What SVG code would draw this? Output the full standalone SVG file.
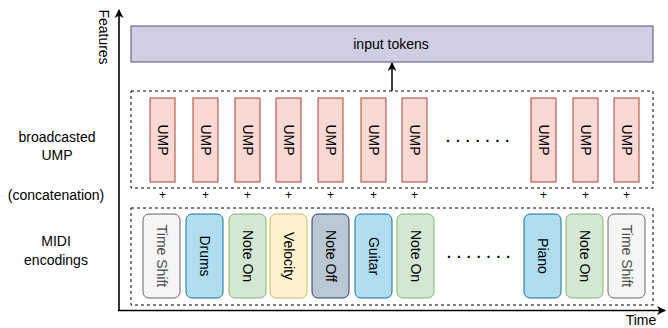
<svg xmlns="http://www.w3.org/2000/svg" width="668" height="328" viewBox="0 0 668 328">
<defs>
<marker id="ah" markerWidth="10" markerHeight="10" refX="8" refY="5" orient="auto" markerUnits="userSpaceOnUse">
<path d="M0,0.5 L9,5 L0,9.5 L2.5,5 Z" fill="#000"/>
</marker>
<marker id="ahs" markerWidth="10" markerHeight="10" refX="8" refY="5" orient="auto" markerUnits="userSpaceOnUse">
<path d="M0,0.5 L9,5 L0,9.5 L2.5,5 Z" fill="#000"/>
</marker>
</defs>
<style>
text{font-family:"Liberation Sans",Arial,sans-serif;font-size:14px;fill:#000}
.lbl{text-anchor:middle}
.rot{text-anchor:middle;dominant-baseline:central}
.dash{fill:none;stroke:#000;stroke-width:1;stroke-dasharray:3 3}
.ump{fill:#fad9d5;stroke:#ae4132;stroke-width:1}
.gray{fill:#f5f5f5;stroke:#666666}
.blue{fill:#b1ddf0;stroke:#10739e}
.green{fill:#d5e8d4;stroke:#82b366}
.yellow{fill:#fff2cc;stroke:#d6b656}
.slate{fill:#bac8d3;stroke:#23445d}
.plus{font-size:12px;text-anchor:middle}
.dots{letter-spacing:6px;font-weight:bold}
.tsh{fill:#4d4d4d}
</style>

<g id="axes">
<line x1="119" y1="311" x2="119" y2="10" stroke="#000" stroke-width="1.6" marker-end="url(#ah)"/>
<line x1="118.2" y1="310.5" x2="665" y2="310.5" stroke="#000" stroke-width="1.6" marker-end="url(#ah)"/>
<text class="rot" transform="rotate(90 104 37)" x="104" y="37">Features</text>
<text class="lbl" x="641" y="325">Time</text>
</g>

<g id="labels">
<text class="lbl" x="57" y="142">broadcasted</text>
<text class="lbl" x="57" y="160">UMP</text>
<text class="lbl" x="56" y="200">(concatenation)</text>
<text class="lbl" x="56" y="246">MIDI</text>
<text class="lbl" x="56" y="265">encodings</text>
</g>

<g id="input-tokens">
<rect x="131" y="26" width="522" height="36" fill="#d0cee2" stroke="#56517e" stroke-width="1"/>
<text class="rot" x="391" y="44">input tokens</text>
</g>

<g id="connectors">
<line x1="392" y1="91" x2="392" y2="63" stroke="#000" stroke-width="1.5" marker-end="url(#ahs)"/>
</g>

<g id="ump-group">
<rect class="dash" x="131" y="91" width="522" height="97"/>
<g id="ump1"><rect class="ump" x="150" y="98" width="25" height="84"/><text class="rot" transform="rotate(90 162.5 140)" x="162.5" y="140">UMP</text></g>
<g id="ump2"><rect class="ump" x="193" y="98" width="25" height="84"/><text class="rot" transform="rotate(90 205.5 140)" x="205.5" y="140">UMP</text></g>
<g id="ump3"><rect class="ump" x="235" y="98" width="25" height="84"/><text class="rot" transform="rotate(90 247.5 140)" x="247.5" y="140">UMP</text></g>
<g id="ump4"><rect class="ump" x="276" y="98" width="25" height="84"/><text class="rot" transform="rotate(90 288.5 140)" x="288.5" y="140">UMP</text></g>
<g id="ump5"><rect class="ump" x="318" y="98" width="25" height="84"/><text class="rot" transform="rotate(90 330.5 140)" x="330.5" y="140">UMP</text></g>
<g id="ump6"><rect class="ump" x="361" y="98" width="25" height="84"/><text class="rot" transform="rotate(90 373.5 140)" x="373.5" y="140">UMP</text></g>
<g id="ump7"><rect class="ump" x="402" y="98" width="25" height="84"/><text class="rot" transform="rotate(90 414.5 140)" x="414.5" y="140">UMP</text></g>
<g id="ump-dots"><text x="446" y="142" class="dots">.......</text></g>
<g id="ump8"><rect class="ump" x="531" y="98" width="25" height="84"/><text class="rot" transform="rotate(90 543.5 140)" x="543.5" y="140">UMP</text></g>
<g id="ump9"><rect class="ump" x="573" y="98" width="25" height="84"/><text class="rot" transform="rotate(90 585.5 140)" x="585.5" y="140">UMP</text></g>
<g id="ump10"><rect class="ump" x="614" y="98" width="25" height="84"/><text class="rot" transform="rotate(90 626.5 140)" x="626.5" y="140">UMP</text></g>
</g>

<g id="plus-signs">
<text class="plus" x="162.5" y="199">+</text>
<text class="plus" x="205.5" y="199">+</text>
<text class="plus" x="247.5" y="199">+</text>
<text class="plus" x="288.5" y="199">+</text>
<text class="plus" x="330.5" y="199">+</text>
<text class="plus" x="373.5" y="199">+</text>
<text class="plus" x="414.5" y="199">+</text>
<text class="plus" x="543.5" y="199">+</text>
<text class="plus" x="585.5" y="199">+</text>
<text class="plus" x="626.5" y="199">+</text>
</g>

<g id="midi-group">
<rect class="dash" x="131" y="208" width="522" height="97"/>
<g id="m1"><rect class="gray" x="143" y="214" width="37" height="84" rx="6"/><text class="rot tsh" transform="rotate(90 161.5 256)" x="161.5" y="256">Time Shift</text></g>
<g id="m2"><rect class="blue" x="186" y="214" width="37" height="84" rx="6"/><text class="rot" transform="rotate(90 204.5 256)" x="204.5" y="256">Drums</text></g>
<g id="m3"><rect class="green" x="229" y="214" width="37" height="84" rx="6"/><text class="rot" transform="rotate(90 247.5 256)" x="247.5" y="256">Note On</text></g>
<g id="m4"><rect class="yellow" x="270" y="214" width="37" height="84" rx="6"/><text class="rot" transform="rotate(90 288.5 256)" x="288.5" y="256">Velocity</text></g>
<g id="m5"><rect class="slate" x="312" y="214" width="37" height="84" rx="6"/><text class="rot" transform="rotate(90 330.5 256)" x="330.5" y="256">Note Off</text></g>
<g id="m6"><rect class="blue" x="355" y="214" width="37" height="84" rx="6"/><text class="rot" transform="rotate(90 373.5 256)" x="373.5" y="256">Guitar</text></g>
<g id="m7"><rect class="green" x="397" y="214" width="37" height="84" rx="6"/><text class="rot" transform="rotate(90 415.5 256)" x="415.5" y="256">Note On</text></g>
<g id="midi-dots"><text x="447" y="258" class="dots">.......</text></g>
<g id="m8"><rect class="blue" x="524" y="214" width="37" height="84" rx="6"/><text class="rot" transform="rotate(90 542.5 256)" x="542.5" y="256">Piano</text></g>
<g id="m9"><rect class="green" x="566" y="214" width="37" height="84" rx="6"/><text class="rot" transform="rotate(90 584.5 256)" x="584.5" y="256">Note On</text></g>
<g id="m10"><rect class="gray" x="608" y="214" width="37" height="84" rx="6"/><text class="rot tsh" transform="rotate(90 626.5 256)" x="626.5" y="256">Time Shift</text></g>
</g>
</svg>
